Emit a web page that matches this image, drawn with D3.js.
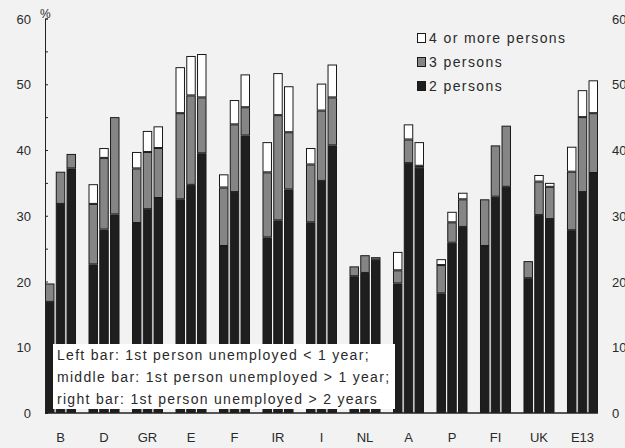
<!DOCTYPE html>
<html>
<head>
<meta charset="utf-8">
<script src="https://cdn.jsdelivr.net/npm/d3@7"></script>
<style>
  html, body { margin: 0; padding: 0; background: #f2f2f2; }
  svg { display: block; }
  text { font-family: "Liberation Sans", Arial, sans-serif; fill: #2a2a2a; }
</style>
</head>
<body>
<svg id="chart" width="625" height="448"></svg>
<script>
// Countries along the x axis
const countries = ["B", "D", "GR", "E", "F", "IR", "I", "NL", "A", "P", "FI", "UK", "E13"];
// Three bars per country: duration of the first person's unemployment
const durations = ["lt1", "gt1", "gt2"];
// Household size categories (stack order, bottom to top)
const sizes = ["2 persons", "3 persons", "4 or more persons"];

// Share (%) of households with a 2nd unemployed member, by household size
// [left bar, middle bar, right bar] per country
const twoPersons = [
  [16.9, 31.8, 37.2], [22.6, 27.9, 30.2], [28.9, 31.0, 32.7], [32.5, 34.7, 39.5],
  [25.4, 33.6, 42.2], [26.7, 29.3, 34.0], [29.0, 35.3, 40.7], [20.8, 21.3, 23.3],
  [19.7, 38.0, 37.3], [18.2, 25.9, 28.3], [25.4, 32.9, 34.4], [20.5, 30.1, 29.5],
  [27.8, 33.6, 36.5]
];
const threePersons = [
  [2.8, 4.9, 2.2], [9.2, 10.9, 14.8], [8.3, 8.7, 7.6], [13.1, 13.6, 8.5],
  [8.9, 10.3, 4.3], [9.9, 16.0, 8.7], [8.8, 10.7, 7.3], [1.5, 2.7, 0.4],
  [2.0, 3.6, 0.3], [4.3, 3.1, 4.2], [7.1, 7.8, 9.3], [2.6, 5.1, 4.9],
  [8.9, 11.4, 9.1]
];
const fourPlus = [
  [0.0, 0.0, 0.0], [3.0, 1.5, 0.0], [2.5, 3.2, 3.3], [7.0, 6.0, 6.6],
  [2.0, 3.7, 5.0], [4.6, 6.4, 7.0], [2.5, 4.1, 5.0], [0.0, 0.0, 0.0],
  [2.8, 2.3, 3.6], [0.9, 1.6, 1.0], [0.0, 0.0, 0.0], [0.0, 1.0, 0.6],
  [3.8, 4.1, 5.0]
];
const yTicks = [0, 10, 20, 30, 40, 50, 60];
const noteLines = [
  "Left bar: 1st person unemployed < 1 year;",
  "middle bar: 1st person unemployed > 1 year;",
  "right bar: 1st person unemployed > 2 years"
];

const fills = { "2 persons": "#1e1e1e", "3 persons": "#858585", "4 or more persons": "#ffffff" };

const svg = d3.select("#chart");
const x0 = 45, x1 = 598, yBase = 413, yTop = 18.5;

const y = d3.scaleLinear().domain([0, 60]).range([yBase, yTop]);
const xGroup = d3.scaleBand().domain(countries).range([x0, x1]).paddingInner(0.287).paddingOuter(0);
const xBar = d3.scaleBand().domain(durations).range([0, xGroup.bandwidth()]).paddingInner(0.12);

// Flatten into one record per bar with stacked segments
const bars = [];
countries.forEach((c, i) => {
  durations.forEach((d, j) => {
    const vals = [twoPersons[i][j], threePersons[i][j], fourPlus[i][j]];
    let acc = 0;
    const segs = sizes.map((s, k) => {
      const seg = { size: s, y0: acc, y1: acc + vals[k] };
      acc += vals[k];
      return seg;
    }).filter(s => s.y1 > s.y0);
    bars.push({ country: c, duration: d, segs });
  });
});

// Bars
const barG = svg.append("g");
bars.forEach(b => {
  const bx = xGroup(b.country) + xBar(b.duration);
  const g = barG.append("g");
  g.selectAll("rect")
    .data(b.segs)
    .join("rect")
    .attr("x", bx + 0.5)
    .attr("width", xBar.bandwidth() - 1)
    .attr("y", s => y(s.y1) + 0.5)
    .attr("height", s => Math.max(0, y(s.y0) - y(s.y1) - 1))
    .attr("fill", s => fills[s.size])
    .attr("stroke", "#1a1a1a")
    .attr("stroke-width", 1);
});

// Note box over the lower part of the bars
const note = svg.append("g");
note.append("rect")
  .attr("x", 53).attr("y", 344).attr("width", 342).attr("height", 65)
  .attr("fill", "#ffffff");
note.selectAll("text")
  .data(noteLines)
  .join("text")
  .attr("x", 57)
  .attr("y", (d, i) => 360 + i * 22)
  .attr("font-size", 14)
  .attr("letter-spacing", 1.3)
  .text(d => d);

// Axes
const yAxisL = d3.axisLeft(y).tickValues(d3.range(0, 61, 5)).tickSize(-3).tickFormat("");
svg.append("g").attr("transform", `translate(${x0},0)`).call(yAxisL)
  .call(g => g.selectAll("path, line").attr("stroke", "#222"));
svg.append("line")
  .attr("x1", x0).attr("x2", x1).attr("y1", yBase).attr("y2", yBase)
  .attr("stroke", "#222").attr("stroke-width", 1.5);

svg.append("g").selectAll("text")
  .data(yTicks)
  .join("text")
  .attr("x", 31).attr("y", d => y(d) + 5)
  .attr("text-anchor", "end")
  .attr("font-size", 13)
  .text(d => d);

svg.append("g").selectAll("text")
  .data(yTicks)
  .join("text")
  .attr("x", 612).attr("y", d => y(d) + 5)
  .attr("font-size", 13)
  .text(d => d);

svg.append("text").attr("x", 40).attr("y", 18).attr("font-size", 12).text("%");

svg.append("g").selectAll("text")
  .data(countries)
  .join("text")
  .attr("x", d => xGroup(d) + xGroup.bandwidth() / 2)
  .attr("y", 442)
  .attr("text-anchor", "middle")
  .attr("font-size", 13)
  .text(d => d);

// Legend
const legend = svg.append("g");
const legendItems = sizes.slice().reverse();
legendItems.forEach((s, i) => {
  const ly = 38 + i * 24;
  legend.append("rect")
    .attr("x", 417.5).attr("y", ly - 4.5).attr("width", 8).attr("height", 9)
    .attr("fill", fills[s]).attr("stroke", "#1a1a1a");
  legend.append("text")
    .attr("x", 429).attr("y", ly + 5)
    .attr("font-size", 14)
    .attr("letter-spacing", 1.4)
    .text(s);
});
</script>
</body>
</html>
